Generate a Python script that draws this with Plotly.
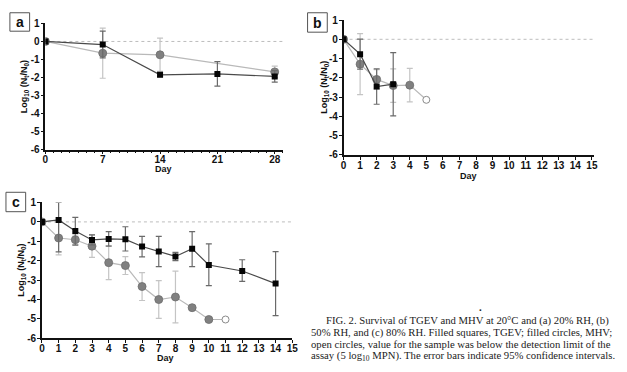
import plotly.graph_objects as go

W, H = 627, 372

# ---------------- data ----------------
# Panel a (20% RH)
a_tgev_days = [0, 7, 14, 21, 28]
a_tgev = [0, -0.17, -1.85, -1.80, -1.94]
a_tgev_err = [0, 0.74, 0.10, 0.68, 0.32]
a_mhv_days = [0, 7, 14, 28]
a_mhv = [0, -0.65, -0.74, -1.69]
a_mhv_err = [0, 1.39, 0.92, 0.32]
a_mhv_below = [False, False, False, False]
a_xticks = [0, 7, 14, 21, 28]

# Panel b (50% RH)
b_tgev_days = [0, 1, 2, 3]
b_tgev = [0, -0.77, -2.45, -2.33]
b_tgev_err = [0, 0.78, 0.92, 1.64]
b_mhv_days = [0, 1, 2, 3, 4, 5]
b_mhv = [0, -1.29, -2.08, -2.40, -2.38, -3.14]
b_mhv_err = [0, 1.58, 0.50, 0.87, 0.87, 0]
b_mhv_below = [False, False, False, False, False, True]

# Panel c (80% RH)
c_tgev_days = [0, 1, 2, 3, 4, 5, 6, 7, 8, 9, 10, 12, 14]
c_tgev = [0, 0.10, -0.47, -0.93, -0.88, -0.90, -1.27, -1.53, -1.78, -1.38, -2.22, -2.53, -3.18]
c_tgev_err_plus = [0, 0.90, 0.70, 0.26, 0.38, 0.65, 0.52, 0.78, 0.21, 0.88, 1.09, 0.58, 1.65]
c_tgev_err_minus = [0, 1.65, 0.73, 0.26, 0.37, 0.60, 0.53, 0.77, 0.22, 0.92, 1.06, 0.54, 1.65]
c_mhv_days = [0, 1, 2, 3, 4, 5, 6, 7, 8, 9, 10, 11]
c_mhv = [0, -0.83, -0.92, -1.25, -2.10, -2.25, -3.33, -4.00, -3.87, -4.42, -5.03, -5.03]
c_mhv_err = [0, 0.87, 0.25, 0.58, 0.87, 0.46, 0.72, 0.97, 1.33, 0.08, 0.05, 0]
c_mhv_below = [False] * 11 + [True]
bc_xticks = list(range(0, 16))

y_ticks = [1, 0, -1, -2, -3, -4, -5, -6]
y_ticktext = [str(v) for v in y_ticks]

caption_lines = [
    "FIG. 2. Survival of TGEV and MHV at 20°C and (a) 20% RH, (b)",
    "50% RH, and (c) 80% RH. Filled squares, TGEV; filled circles, MHV;",
    "open circles, value for the sample was below the detection limit of the",
    "assay (5 log<sub>10</sub> MPN). The error bars indicate 95% confidence intervals.",
]

# ---------------- styles ----------------
SQ_COLOR = "#050505"
SQ_LINE = "#4a4a4a"
SQ_ERR = "#6a6a6a"
CI_COLOR = "#808080"
CI_EDGE = "#6c6c6c"
CI_LINE = "#b9b9b9"
CI_ERR = "#c4c4c4"
SANS = "Liberation Sans, Arial, sans-serif"
SERIF = "Liberation Serif, Times New Roman, serif"


def px_x(p):
    return p / W


def px_y(p):
    return 1 - p / H


fig = go.Figure()

panels = [
    dict(xa="x", ya="y", xd=(43, 284), yd=(19, 149), xmax=29,
         tgev=(a_tgev_days, a_tgev, a_tgev_err, a_tgev_err),
         mhv=(a_mhv_days, a_mhv, a_mhv_err, a_mhv_below), xticks=a_xticks, minor=True),
    dict(xa="x2", ya="y2", xd=(345.5, 600), yd=(15.5, 154.5), xmax=15.15,
         tgev=(b_tgev_days, b_tgev, b_tgev_err, b_tgev_err),
         mhv=(b_mhv_days, b_mhv, b_mhv_err, b_mhv_below), xticks=bc_xticks, minor=False),
    dict(xa="x3", ya="y3", xd=(39.5, 293.5), yd=(203.5, 343.5), xmax=15.0,
         tgev=(c_tgev_days, c_tgev, c_tgev_err_plus, c_tgev_err_minus),
         mhv=(c_mhv_days, c_mhv, c_mhv_err, c_mhv_below), xticks=bc_xticks, minor=False),
]

for i, p in enumerate(panels):
    xa, ya = p["xa"], p["ya"]
    fig.add_shape(type="line", xref=xa, yref=ya, x0=0, x1=p["xmax"], y0=0, y1=0,
                  line=dict(color="#bdbdbd", width=1, dash="dot"), layer="below")

    md, mv, me, mb = p["mhv"]
    fig.add_trace(go.Scatter(x=md, y=mv, mode="lines", xaxis=xa, yaxis=ya,
                             line=dict(color=CI_LINE, width=1.2), showlegend=False,
                             hoverinfo="skip"))
    det_x = [d for d, b in zip(md, mb) if not b]
    det_y = [v for v, b in zip(mv, mb) if not b]
    det_e = [e for e, b in zip(me, mb) if not b]
    fig.add_trace(go.Scatter(x=det_x, y=det_y, mode="markers", xaxis=xa, yaxis=ya,
                             marker=dict(symbol="circle", size=8, color=CI_COLOR,
                                         line=dict(color=CI_EDGE, width=0.8)),
                             error_y=dict(type="data", array=det_e, visible=True,
                                          color=CI_ERR, thickness=1.2, width=3),
                             showlegend=False))
    bl_x = [d for d, b in zip(md, mb) if b]
    bl_y = [v for v, b in zip(mv, mb) if b]
    if bl_x:
        fig.add_trace(go.Scatter(x=bl_x, y=bl_y, mode="markers", xaxis=xa, yaxis=ya,
                                 marker=dict(symbol="circle", size=7, color="white",
                                             line=dict(color="#8a8a8a", width=1)),
                                 showlegend=False))

    td, tv, tep, tem = p["tgev"]
    fig.add_trace(go.Scatter(x=td, y=tv, mode="lines+markers", xaxis=xa, yaxis=ya,
                             line=dict(color=SQ_LINE, width=1.2),
                             marker=dict(symbol="square", size=6, color=SQ_COLOR),
                             error_y=dict(type="data", array=tep, arrayminus=tem,
                                          symmetric=False, visible=True,
                                          color=SQ_ERR, thickness=1.2, width=3),
                             showlegend=False))

    xkey = "xaxis" if i == 0 else f"xaxis{i+1}"
    ykey = "yaxis" if i == 0 else f"yaxis{i+1}"
    xd = [px_x(p["xd"][0]), px_x(p["xd"][1])]
    yd = [px_y(p["yd"][1]), px_y(p["yd"][0])]
    xax = dict(domain=xd, range=[0, p["xmax"]], anchor=ya, showgrid=False, zeroline=False,
               showline=True, linecolor="#111", linewidth=1.5, ticks="outside",
               ticklen=3, tickwidth=1.3, tickcolor="#111", tickvals=p["xticks"],
               ticktext=[str(v) for v in p["xticks"]], ticklabelstandoff=-3,
               tickfont=dict(family=SANS, size=10, color="#111", weight="bold"))
    if p["minor"]:
        xax["minor"] = dict(dtick=1, tick0=0, ticks="outside", ticklen=2,
                            tickwidth=1, tickcolor="#111")
    yax = dict(domain=yd, range=[-6, 1], anchor=xa, showgrid=False, zeroline=False,
               showline=True, linecolor="#111", linewidth=1.5, ticks="outside",
               ticklen=3, tickwidth=1.3, tickcolor="#111", tickvals=y_ticks,
               ticktext=y_ticktext, ticklabelstandoff=-1,
               tickfont=dict(family=SANS, size=10, color="#111", weight="bold"))
    fig.update_layout({xkey: xax, ykey: yax})

annotations = []
ylab = "Log<sub>10</sub> (N<sub>t</sub>/N<sub>0</sub>)"
for (xp, yp) in [(22, 84), (326, 85), (19, 273)]:
    annotations.append(dict(text=ylab, x=px_x(xp), y=px_y(yp), xref="paper", yref="paper",
                            textangle=-90, showarrow=False, xanchor="center", yanchor="middle",
                            font=dict(family=SANS, size=9, color="#111", weight="bold")))
for (xp, yp) in [(163, 169), (472, 176), (165, 364)]:
    annotations.append(dict(text="Day", x=px_x(xp), y=px_y(yp), xref="paper", yref="paper",
                            showarrow=False, xanchor="center", yanchor="middle",
                            font=dict(family=SANS, size=9, color="#111", weight="bold")))

shapes = []
for letter, (x0, y0, x1, y1) in [("a", (7, 8, 27, 27)), ("b", (309, 8, 329, 28)),
                                 ("c", (3, 193, 23, 213))]:
    shapes.append(dict(type="rect", xref="paper", yref="paper", x0=px_x(x0), x1=px_x(x1),
                       y0=px_y(y1), y1=px_y(y0), line=dict(color="#555", width=1)))
    annotations.append(dict(text=letter, x=px_x((x0 + x1) / 2), y=px_y((y0 + y1) / 2 + 0.5),
                            xref="paper", yref="paper", showarrow=False,
                            xanchor="center", yanchor="middle",
                            font=dict(family=SANS, size=14, color="#111", weight="bold")))

cap_pos = [(326, 325.5), (310, 337.5), (310, 349.5), (310, 361.5)]
for txt, (xp, yp) in zip(caption_lines, cap_pos):
    annotations.append(dict(text=txt, x=px_x(xp), y=px_y(yp), xref="paper", yref="paper",
                            showarrow=False, xanchor="left", yanchor="middle",
                            font=dict(family=SERIF, size=10.7, color="#222")))
annotations.append(dict(text=".", x=px_x(484), y=px_y(311), xref="paper", yref="paper",
                        showarrow=False, xanchor="center", yanchor="middle",
                        font=dict(family=SERIF, size=11, color="#222", weight="bold")))

for s in shapes:
    fig.add_shape(**s)

fig.update_layout(width=W, height=H, margin=dict(l=0, r=0, t=0, b=0),
                  paper_bgcolor="white", plot_bgcolor="white",
                  annotations=annotations, showlegend=False)

fig.write_html("out.html", config={"displayModeBar": False},
               post_script="document.body.style.margin='0';document.body.style.overflow='hidden';")
